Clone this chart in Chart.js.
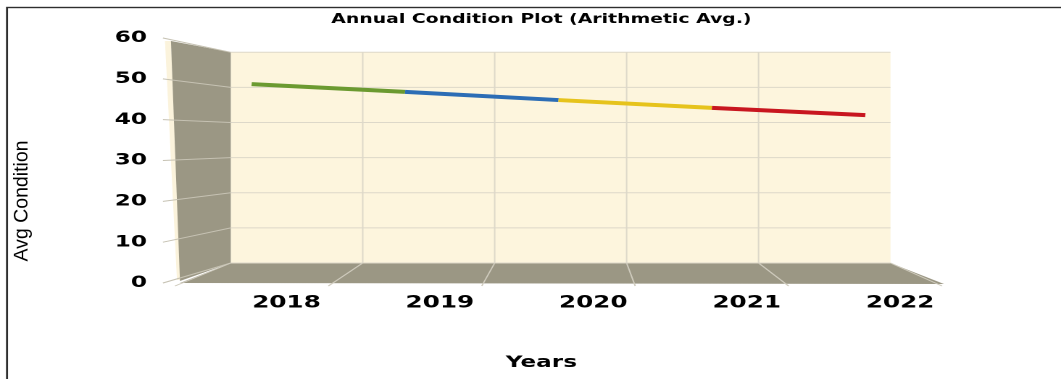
<!DOCTYPE html>
<html>
<head>
<meta charset="utf-8">
<script src="https://cdn.jsdelivr.net/npm/chart.js@4.4.1/dist/chart.umd.min.js"></script>
<style>
  html, body { margin: 0; padding: 0; background: #fff; overflow: hidden; }
  /* the reference picture is stretched sideways, so the whole chart is too */
  #wrap { width: 732px; height: 379px; transform: scaleX(1.4495); transform-origin: 0 0; }
</style>
</head>
<body>
<div id="wrap"><canvas id="chart" width="732" height="379"></canvas></div>
<script>
const years = ['2018', '2019', '2020', '2021', '2022'];
const avgCondition = [48.7, 46.8, 44.8, 42.9, 41.1];
const segmentColors = ['#6b9a30', '#2c6db5', '#e6c31c', '#c8161f'];
const yMin = 0, yMax = 60, yStep = 10;
const chartTitle = 'Annual Condition Plot (Arithmetic Avg.)';
const xTitle = 'Years';
const yTitle = 'Avg Condition';

const STRETCH = 1061 / 732;
Chart.defaults.font.family = '"DejaVu Sans", Verdana, sans-serif';

// 3D look: back wall, side wall and floor, projected from the front plane (chart area)
const wallsPlugin = {
  id: 'walls',
  beforeDraw(chart) {
    const ctx = chart.ctx;
    ctx.save();
    ctx.strokeStyle = '#2e2e2e';
    ctx.lineWidth = 1.4;
    ctx.strokeRect(7 / STRETCH, 7.5, chart.width, chart.height);
    ctx.restore();
  },
  beforeDatasetsDraw(chart) {
    const { ctx, chartArea: a, scales: { x, y } } = chart;
    const vx = a.left + 0.52 * (a.right - a.left);
    const vy = a.top + 0.417 * (a.bottom - a.top);
    const k = 0.86;
    const back = (px, py) => [vx + k * (px - vx), vy + k * (py - vy)];
    const [blx, bty] = back(a.left, a.top);
    const [brx, bby] = back(a.right, a.bottom);
    const line = (x1, y1, x2, y2) => { ctx.beginPath(); ctx.moveTo(x1, y1); ctx.lineTo(x2, y2); ctx.stroke(); };

    ctx.save();
    ctx.fillStyle = '#fdf5dd';
    ctx.fillRect(blx, bty, brx - blx, bby - bty);

    // side wall, its front edge leans a little like the reference
    ctx.fillStyle = '#fbf3dc';
    ctx.beginPath();
    ctx.moveTo(a.left - 10 / STRETCH, a.top + 3); ctx.lineTo(a.left - 4 / STRETCH, a.top + 3);
    ctx.lineTo(a.left + 6 / STRETCH, a.bottom - 3); ctx.lineTo(a.left + 2 / STRETCH, a.bottom - 3);
    ctx.closePath(); ctx.fill();
    ctx.fillStyle = '#9b9784';
    ctx.beginPath();
    ctx.moveTo(a.left - 4 / STRETCH, a.top + 3); ctx.lineTo(blx, bty); ctx.lineTo(blx, bby);
    ctx.lineTo(a.left + 5 / STRETCH, a.bottom - 2);
    ctx.closePath(); ctx.fill();
    ctx.beginPath();
    ctx.moveTo(a.left + 5 / STRETCH, a.bottom); ctx.lineTo(blx, bby); ctx.lineTo(brx, bby); ctx.lineTo(a.right + 2 / STRETCH, a.bottom + 1);
    ctx.closePath(); ctx.fill();

    ctx.lineWidth = 1;
    y.ticks.forEach(t => {
      const py = y.getPixelForValue(t.value);
      const by = back(a.left, py)[1];
      ctx.strokeStyle = '#ddd8c9';
      line(blx, by, brx, by);
      ctx.strokeStyle = '#c6c2b3';
      line(a.left - 12 / STRETCH, py, blx, by);
    });
    for (let i = 0; i <= years.length; i++) {
      const px = x.getPixelForValue(i - 0.5);
      const bx = back(px, a.bottom)[0];
      ctx.strokeStyle = '#ddd8c9';
      if (i > 0 && i < years.length) line(bx, bty, bx, bby);
      ctx.strokeStyle = '#cfcbbd';
      line(bx, bby, px, a.bottom + 3);
    }
    ctx.restore();
  },
  afterDraw(chart) {
    const ctx = chart.ctx;
    ctx.save();
    ctx.translate(22 / STRETCH, 201);
    ctx.scale(1 / STRETCH, 1);
    ctx.rotate(-Math.PI / 2);
    ctx.font = '19.5px "Liberation Sans", Arial, sans-serif';
    ctx.textAlign = 'center';
    ctx.textBaseline = 'middle';
    ctx.fillStyle = '#000';
    ctx.fillText(yTitle, 0, 0);
    ctx.restore();
  }
};

new Chart(document.getElementById('chart'), {
  type: 'line',
  data: {
    labels: years,
    datasets: [{
      label: yTitle,
      data: avgCondition,
      borderColor: segmentColors[0],
      borderWidth: 4,
      pointRadius: 0,
      tension: 0,
      segment: { borderColor: c => segmentColors[c.p0DataIndex] }
    }]
  },
  options: {
    responsive: false,
    animation: false,
    devicePixelRatio: 2,
    layout: { padding: { left: 15, right: 0, top: 0, bottom: 0 } },
    plugins: {
      legend: { display: false },
      tooltip: { enabled: false },
      title: {
        display: true, text: chartTitle, color: '#000',
        font: { size: 13, weight: 'bold', lineHeight: 1.2 },
        padding: { top: 12, bottom: 10.4 }
      },
      subtitle: {
        display: true, position: 'bottom', text: xTitle, color: '#000',
        font: { size: 16, weight: 'bold', lineHeight: 1.2 },
        padding: { top: 10, bottom: 6.4 }
      }
    },
    scales: {
      x: {
        type: 'category', offset: true,
        grid: { display: false, drawTicks: false }, border: { display: false },
        ticks: { color: '#000', font: { size: 17, weight: 'bold' }, padding: 10, labelOffset: 24, maxRotation: 0, autoSkip: false },
        afterFit: s => { s.height = 60.4; }
      },
      y: {
        min: yMin, max: yMax,
        grid: { display: false, drawTicks: false }, border: { display: false },
        ticks: { stepSize: yStep, color: '#000', font: { size: 16, weight: 'bold' }, padding: 19.3 },
        afterFit: s => { s.width = 105.7; }
      },
      yRight: {
        position: 'right',
        grid: { display: false, drawTicks: false }, border: { display: false },
        ticks: { display: false },
        afterFit: s => { s.width = 82.1; }
      }
    }
  },
  plugins: [wallsPlugin]
});
</script>
</body>
</html>
